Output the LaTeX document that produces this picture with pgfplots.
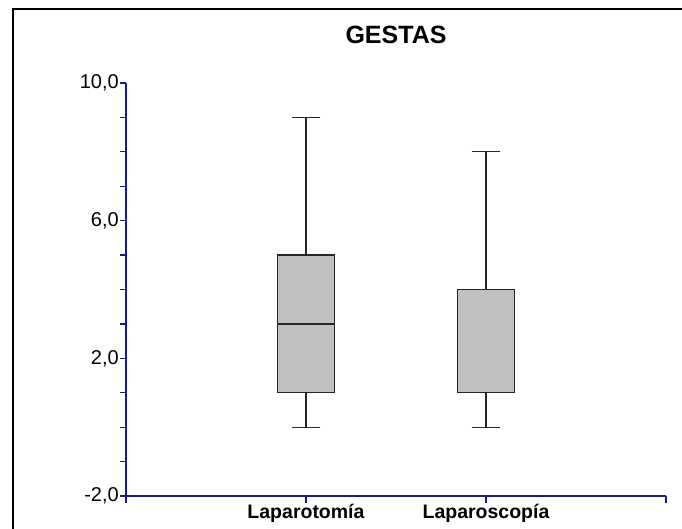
\documentclass[border=0pt]{standalone}
\usepackage{fontspec}
\setmainfont{Liberation Sans}
\usepackage{pgfplots}
\pgfplotsset{compat=1.18}
\usepgfplotslibrary{statistics}
\definecolor{axblue}{RGB}{25,25,140}
\definecolor{boxgray}{RGB}{192,192,192}
\begin{document}
\begin{tikzpicture}
\path[use as bounding box] (0pt,0pt) rectangle (682pt,-529pt);
\draw[line width=2pt] (13pt,-529pt) -- (13pt,-9pt) -- (682pt,-9pt);
\node[font=\fontsize{25}{25}\selectfont\bfseries] at (396pt,-35pt) {GESTAS};
\begin{axis}[
  at={(126pt,-496pt)}, anchor=south west,
  scale only axis, width=540pt, height=413pt,
  xmin=0, xmax=3, ymin=-2, ymax=10,
  axis x line*=bottom, axis y line*=left,
  axis line style={axblue, line width=1.2pt},
  xtick={0,1,2,3}, xticklabels={,Laparotomía,Laparoscopía,},
  ytick={-2,-1,0,1,2,3,4,5,6,7,8,9,10},
  yticklabels={{-2,0},,,,{2,0},,,,{6,0},,,,{10,0}},
  tick align=outside, major tick length=6.5pt,
  tick style={axblue, line width=1.2pt},
  xticklabel style={font=\fontsize{19.5}{20}\selectfont\bfseries, inner sep=1.5pt, text=black},
  yticklabel style={font=\fontsize{20}{20}\selectfont, inner sep=0.5pt, text=black},
  clip=false,
  boxplot/draw direction=y,
  boxplot/box extend=0.32,
  boxplot/whisker extend=0.16,
]
\addplot[draw=black!85, fill=boxgray, line width=1.3pt,
  boxplot prepared={lower whisker=0, lower quartile=1, median=3,
    upper quartile=5, upper whisker=9, draw position=1}] coordinates {};
\addplot[draw=black!85, fill=boxgray, line width=1.3pt,
  boxplot prepared={lower whisker=0, lower quartile=1, median=1,
    upper quartile=4, upper whisker=8, draw position=2}] coordinates {};
\end{axis}
\end{tikzpicture}
\end{document}
